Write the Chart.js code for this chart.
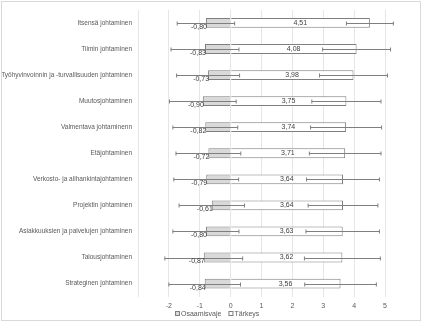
<!DOCTYPE html>
<html>
<head>
<meta charset="utf-8">
<script src="https://cdn.jsdelivr.net/npm/chart.js@4"></script>
<style>
html,body{margin:0;padding:0;background:#fff;}
#wrap{position:relative;width:423px;height:324px;}
#frame{position:absolute;left:1px;top:1px;width:420px;height:320px;box-sizing:border-box;border:1px solid #d9d9d9;pointer-events:none;}
canvas{position:absolute;left:0;top:0;}
</style>
</head>
<body>
<div id="wrap"><canvas id="c" width="423" height="324"></canvas><div id="frame"></div></div>
<script>
const categories = [
  "Itsensä johtaminen",
  "Tiimin johtaminen",
  "Työhyvinvoinnin ja -turvallisuuden johtaminen",
  "Muutosjohtaminen",
  "Valmentava johtaminenn",
  "Etäjohtaminen",
  "Verkosto- ja alihankintajohtaminen",
  "Projektin johtaminen",
  "Asiakkuuksien ja palvelujen johtaminen",
  "Talousjohtaminen",
  "Strateginen johtaminen"
];
const osaamisvaje = [-0.80, -0.83, -0.73, -0.90, -0.82, -0.72, -0.79, -0.61, -0.80, -0.87, -0.84];
const tarkeys = [4.51, 4.08, 3.98, 3.75, 3.74, 3.71, 3.64, 3.64, 3.63, 3.62, 3.56];
const osaamisvajeErr = [0.93, 1.10, 1.02, 1.08, 1.05, 1.05, 1.05, 1.06, 1.07, 1.26, 1.16];
const tarkeysErr = [0.76, 1.10, 1.10, 1.12, 1.15, 1.16, 1.18, 1.13, 1.19, 1.23, 1.16];
const xTickLabels = [-2, -1, 0, 1, 2, 3, 4, 5];
const seriesNames = ["Osaamisvaje", "Tärkeys"];

const FONT = "'Liberation Sans', Arial, sans-serif";
const fmt = v => v.toFixed(2).replace('.', ',');

const errorBars = {
  id: 'errorBars',
  afterDatasetsDraw(chart) {
    const ctx = chart.ctx;
    const xs = chart.scales.x;
    const errs = [osaamisvajeErr, tarkeysErr];
    ctx.save();
    ctx.strokeStyle = '#7f7f7f';
    ctx.lineWidth = 1;
    chart.data.datasets.forEach((ds, di) => {
      const meta = chart.getDatasetMeta(di);
      meta.data.forEach((el, i) => {
        const v = ds.data[i];
        const e = errs[di][i];
        const x1 = xs.getPixelForValue(v - e);
        const x2 = xs.getPixelForValue(v + e);
        const y = Math.round(el.y) + 0.5;
        ctx.beginPath();
        ctx.moveTo(x1, y); ctx.lineTo(x2, y);
        ctx.moveTo(x1, y - 2); ctx.lineTo(x1, y + 2);
        ctx.moveTo(x2, y - 2); ctx.lineTo(x2, y + 2);
        ctx.stroke();
      });
    });
    ctx.restore();
  }
};

const valueLabels = {
  id: 'valueLabels',
  afterDraw(chart) {
    const ctx = chart.ctx;
    const xs = chart.scales.x;
    ctx.save();
    ctx.font = "7px " + FONT;
    ctx.fillStyle = '#404040';
    const m0 = chart.getDatasetMeta(0);
    m0.data.forEach((el, i) => {
      ctx.textAlign = 'right';
      ctx.textBaseline = 'middle';
      ctx.fillText(fmt(osaamisvaje[i]), el.x + 1, el.y + 4);
    });
    const m1 = chart.getDatasetMeta(1);
    m1.data.forEach((el, i) => {
      ctx.textAlign = 'center';
      ctx.textBaseline = 'middle';
      const cx = (xs.getPixelForValue(0) + xs.getPixelForValue(tarkeys[i])) / 2;
      ctx.fillText(fmt(tarkeys[i]), cx, el.y);
    });
    ctx.restore();
  }
};

const customLegend = {
  id: 'customLegend',
  afterDraw(chart) {
    const ctx = chart.ctx;
    ctx.save();
    ctx.font = "7px " + FONT;
    ctx.textAlign = 'left';
    ctx.textBaseline = 'middle';
    let x = 175;
    const y = 314;
    chart.data.datasets.forEach((ds, i) => {
      ctx.fillStyle = ds.backgroundColor;
      ctx.fillRect(x + 0.5, y - 2.5, 4, 4);
      ctx.strokeStyle = ds.borderColor;
      ctx.lineWidth = 1;
      ctx.strokeRect(x + 0.5, y - 2.5, 4, 4);
      ctx.fillStyle = '#595959';
      ctx.fillText(ds.label, x + 6, y);
      x += 6 + ctx.measureText(ds.label).width + 7;
    });
    ctx.restore();
  }
};

new Chart(document.getElementById('c'), {
  type: 'bar',
  data: {
    labels: categories,
    datasets: [
      {
        label: seriesNames[0],
        data: osaamisvaje,
        backgroundColor: '#d9d9d9',
        borderColor: '#7f7f7f',
        borderWidth: 1,
        categoryPercentage: 0.8,
        barPercentage: 0.47
      },
      {
        label: seriesNames[1],
        data: tarkeys,
        backgroundColor: '#ffffff',
        borderColor: '#7f7f7f',
        borderWidth: 1,
        categoryPercentage: 0.8,
        barPercentage: 0.47
      }
    ]
  },
  options: {
    indexAxis: 'y',
    responsive: false,
    animation: false,
    devicePixelRatio: 1,
    layout: { padding: { left: 0, right: 38, top: 8, bottom: 9 } },
    scales: {
      x: {
        stacked: true,
        min: -3,
        max: 5,
        grid: { color: '#e6e6e6', drawTicks: false },
        border: { display: false },
        ticks: {
          stepSize: 1,
          padding: 5,
          color: '#595959',
          font: { family: FONT, size: 7 },
          callback: v => xTickLabels.includes(v) ? String(v) : ''
        }
      },
      y: {
        stacked: true,
        grid: { display: false, drawTicks: false },
        border: { display: false },
        ticks: {
          padding: 6,
          color: '#595959',
          font: { family: FONT, size: 6.5 },
          autoSkip: false
        },
        afterFit(scale) { scale.width = 138; }
      }
    },
    plugins: {
      legend: { display: false },
      tooltip: { enabled: false }
    }
  },
  plugins: [errorBars, valueLabels, customLegend]
});
</script>
</body>
</html>
